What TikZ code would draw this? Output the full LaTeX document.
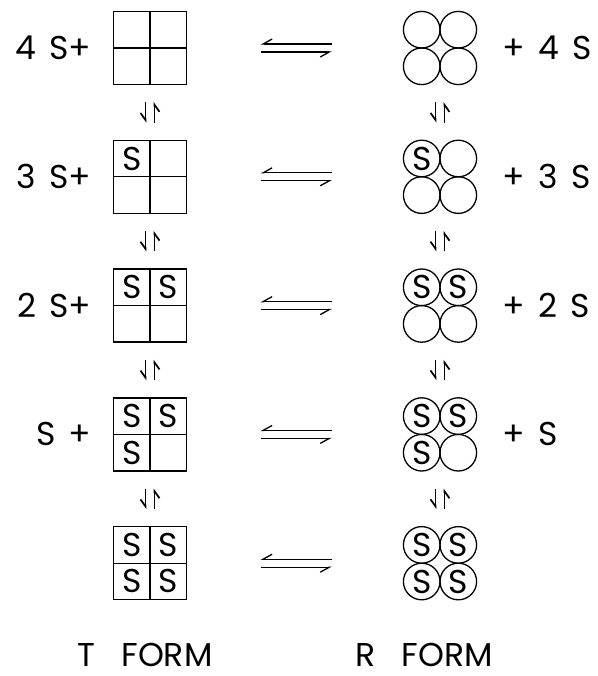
\documentclass[tikz,border=0pt]{standalone}
\usepackage{fontspec}
\setmainfont{Poppins}[WordSpace=1.5]
\usetikzlibrary{positioning,arrows.meta}

\begin{document}
\begin{tikzpicture}[x=1pt,y=-1pt,line width=1.3pt,
  font=\fontsize{33}{36}\selectfont,
  hharp/.style={-{Straight Barb[right,length=9pt,width=10pt]},line width=1.3pt},
  vharp/.style={-{Straight Barb[right,length=7pt,width=10pt]},line width=1.7pt},
  sq/.style={draw,minimum size=73pt,inner sep=0pt},
  grp/.style={minimum size=73.2pt,inner sep=0pt},
  cell/.style={minimum size=36.5pt,inner sep=0pt},
  ring/.style={draw,circle,minimum size=36.6pt,inner sep=0pt},
  lbl/.style={inner sep=0pt}]
\useasboundingbox (0,0) rectangle (597,676);
% five stages, n = number of bound S
\foreach \n [count=\i] in {0,...,4}{
  \pgfmathsetmacro\y{48+(\i-1)*128.8}
  \node[sq] (t\i) at (150,\y) {};
  \draw (t\i.north) -- (t\i.south) (t\i.west) -- (t\i.east);
  \node[grp] (r\i) at (440,\y) {};
  \foreach \dx/\dy [count=\k] in {-1/-1,1/-1,-1/1,1/1}{
    \node[ring] (r\i-\k) at ([shift={(\dx*18.3,\dy*18.3)}]r\i) {\ifnum\k>\n\else S\fi};
    \ifnum\k>\n\else
      \node[cell] (t\i-\k) at ([shift={(\dx*18.25,\dy*18.25)}]t\i) {S};
    \fi
  }
  \draw[hharp,shorten <=71pt,shorten >=73.5pt] ([yshift=4pt]r\i.west) -- ([yshift=4pt]t\i.east);
  \draw[hharp,shorten <=73.5pt,shorten >=71pt] ([yshift=-4pt]t\i.east) -- ([yshift=-4pt]r\i.west);
}
% vertical equilibria
\foreach \i [evaluate=\i as \j using int(\i+1)] in {1,...,4}{
  \foreach \c in {t,r}{
    \draw[vharp,shorten <=17pt,shorten >=17pt] ([xshift=-4.5pt]\c\i.south) -- ([xshift=-4.5pt]\c\j.north);
    \draw[vharp,shorten <=17pt,shorten >=17pt] ([xshift=4.5pt]\c\j.north) -- ([xshift=4.5pt]\c\i.south);
  }
}
% free S on each side
\foreach \lab/\rlab [count=\i] in {{4 S+}/{+ 4 S},{3 S+}/{+ 3 S},{2 S+}/{+ 2 S},{S +}/{+ S}}{
  \node[lbl,left=21pt of t\i] (ls\i) {\lab};
  \node[lbl,right=25pt of r\i] (rs\i) {\rlab};
}
\node[lbl] (tf) at (145,655) {T\hspace{26pt}FORM};
\node[lbl] (rf) at (424,655) {R\hspace{26pt}FORM};
\end{tikzpicture}
\end{document}
